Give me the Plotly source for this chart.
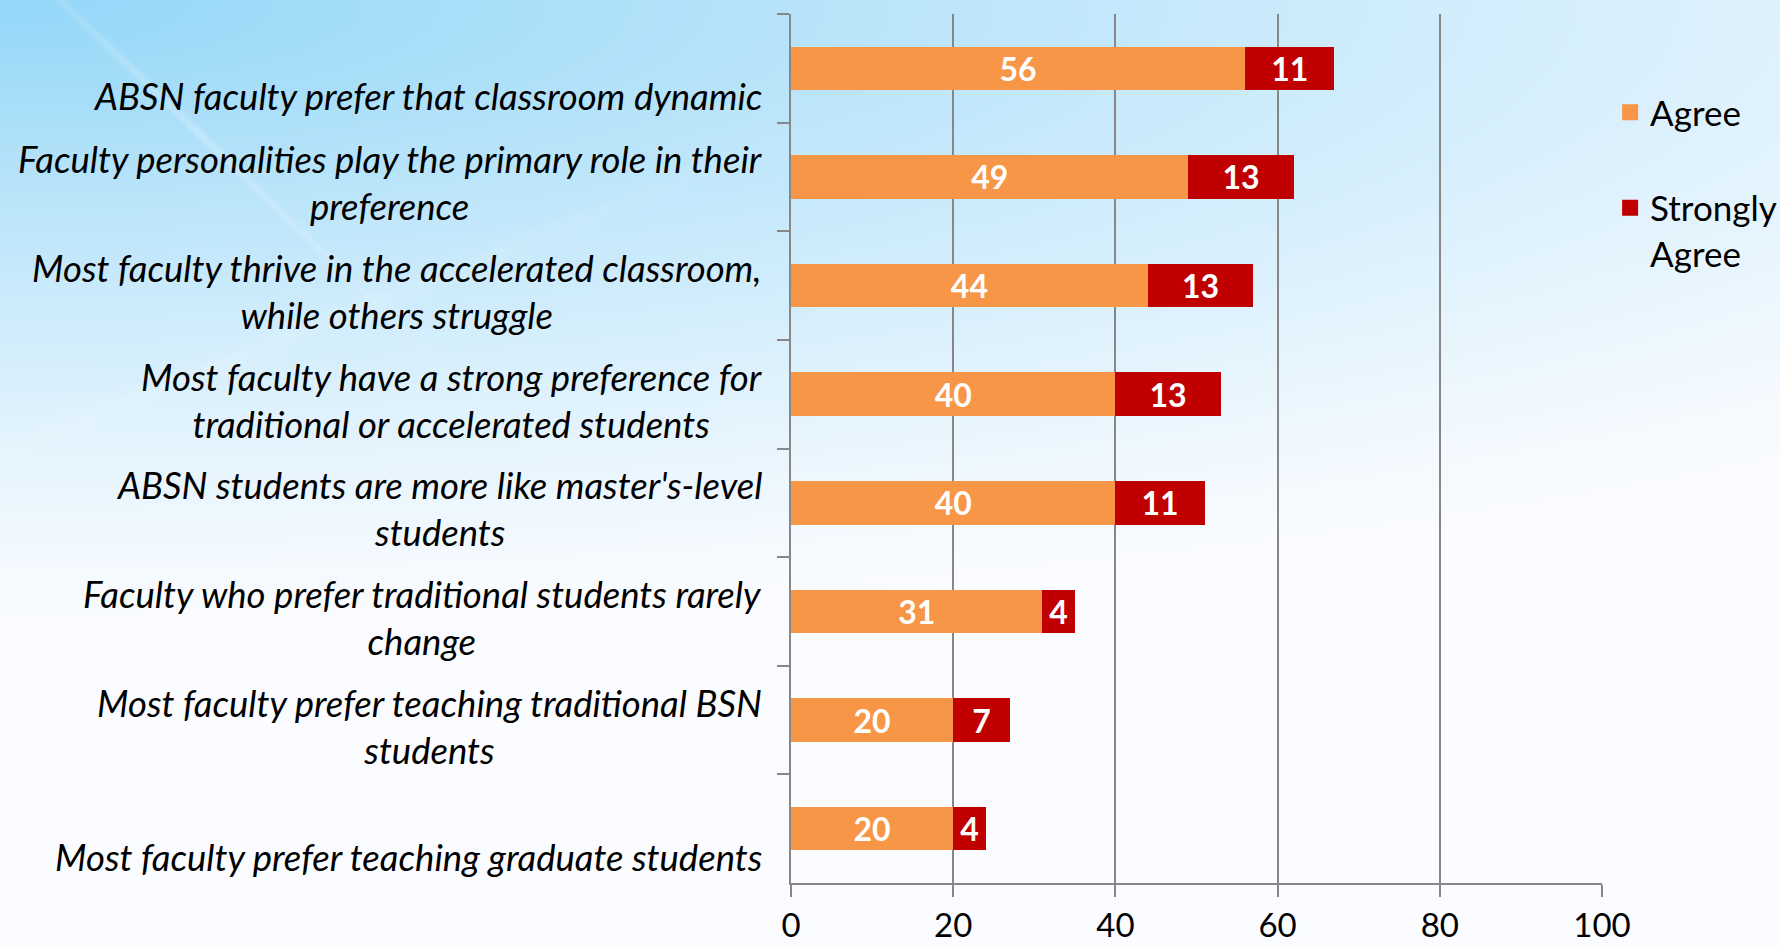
import base64
import struct
import zlib

import numpy as np
import plotly.graph_objects as go

# ---- data -------------------------------------------------------------
statements = [
    "ABSN faculty prefer that classroom dynamic",
    "Faculty personalities play the primary role in their<br>preference",
    "Most faculty thrive in the accelerated classroom,<br>while others struggle",
    "Most faculty have a strong preference for<br>traditional or accelerated students",
    "ABSN students are more like master's-level<br>students",
    "Faculty who prefer traditional students rarely<br>change",
    "Most faculty prefer teaching traditional BSN<br>students",
    "Most faculty prefer teaching graduate students",
]
agree = [56, 49, 44, 40, 40, 31, 20, 20]
strongly_agree = [11, 13, 13, 13, 11, 4, 7, 4]
series_names = ["Agree", "Strongly<br>Agree"]
x_ticks = [0, 20, 40, 60, 80, 100]

# ---- styling ----------------------------------------------------------
W, H = 1780, 947
M_L, M_R, M_T, M_B = 791, 178, 14, 64
ORANGE = "#F79646"
RED = "#C00000"
GRID = "#878787"
FONT = "Lato, 'Open Sans', sans-serif"


def png_data_uri(rgb):
    """Encode an (h, w, 3) uint8 array as a PNG data URI."""
    h, w, _ = rgb.shape
    raw = b"".join(b"\x00" + rgb[r].tobytes() for r in range(h))

    def chunk(tag, data):
        c = struct.pack(">I", len(data)) + tag + data
        return c + struct.pack(">I", zlib.crc32(tag + data) & 0xFFFFFFFF)

    png = b"\x89PNG\r\n\x1a\n"
    png += chunk(b"IHDR", struct.pack(">IIBBBBB", w, h, 8, 2, 0, 0, 0))
    png += chunk(b"IDAT", zlib.compress(raw, 9))
    png += chunk(b"IEND", b"")
    return "data:image/png;base64," + base64.b64encode(png).decode()


# slide-style backdrop: sky blue in the upper left fading to white
S = 2
bh, bw = H // S, W // S
yy, xx = np.mgrid[0:bh, 0:bw].astype(float)
xx *= S
yy *= S
d = np.sqrt((xx / 2700.0) ** 2 + (yy / 620.0) ** 2)
t = np.clip(1.0 - d, 0, 1) ** 1.2
blue = np.array([148, 215, 248], float)
white = np.array([250, 252, 255], float)
img = white + t[..., None] * (blue - white)


def streak(x0, y0, x1, y1, width, strength):
    vx, vy = x1 - x0, y1 - y0
    L = np.hypot(vx, vy)
    nx, ny = -vy / L, vx / L
    dist = np.abs((xx - x0) * nx + (yy - y0) * ny)
    along = ((xx - x0) * vx + (yy - y0) * vy) / (L * L)
    fade = np.clip(1 - np.abs(along - 0.3) / 0.7, 0, 1)
    return strength * np.exp(-(dist / width) ** 2) * fade


a = streak(60, 0, 520, 440, 4, 0.25) + streak(0, 450, 900, 90, 10, 0.15)
a = np.clip(a, 0, 1)[..., None]
img = img + a * (255 - img)
bg_uri = png_data_uri(np.clip(img, 0, 255).astype(np.uint8))

# ---- figure -----------------------------------------------------------
fig = go.Figure()
for name, vals, color in [
    (series_names[0], agree, ORANGE),
    (series_names[1], strongly_agree, RED),
]:
    fig.add_trace(
        go.Bar(
            y=statements,
            x=vals,
            orientation="h",
            name=name,
            marker=dict(color=color, line=dict(width=0)),
            width=0.4,
            text=vals,
            texttemplate="%{x}",
            textposition="inside",
            insidetextanchor="middle",
            constraintext="none",
            textangle=0,
            textfont=dict(family=FONT, size=32, color="white", weight="bold"),
            showlegend=False,
            hoverinfo="skip",
        )
    )
    # square swatches for the legend
    fig.add_trace(
        go.Scatter(
            x=[None],
            y=[None],
            mode="markers",
            name=name,
            legendgroup=name,
            marker=dict(symbol="square", size=20, color=color),
        )
    )

# category labels: right-aligned block, lines centred inside it
for s in statements:
    one_line = "<br>" not in s
    fig.add_annotation(
        x=0,
        xref="paper",
        y=s,
        yref="y",
        text=s,
        xanchor="right",
        yanchor="middle",
        align="center",
        xshift=-27,
        yshift=-28 if one_line else -6,
        showarrow=False,
        font=dict(family=FONT, size=36.5, color="black", style="italic"),
    )

pw = W - M_L - M_R
ph = H - M_T - M_B
fig.add_layout_image(
    source=bg_uri,
    xref="paper",
    yref="paper",
    x=-M_L / pw,
    y=1 + M_T / ph,
    sizex=W / pw,
    sizey=H / ph,
    xanchor="left",
    yanchor="top",
    sizing="stretch",
    layer="below",
)

fig.update_layout(
    width=W,
    height=H,
    margin=dict(l=M_L, r=M_R, t=M_T, b=M_B, pad=0, autoexpand=False),
    paper_bgcolor="white",
    plot_bgcolor="rgba(0,0,0,0)",
    barmode="stack",
    font=dict(family=FONT, color="black"),
    legend=dict(
        x=1.01,
        xanchor="left",
        y=1 - (83 - M_T) / ph,
        yanchor="top",
        font=dict(family=FONT, size=35, color="black"),
        bgcolor="rgba(0,0,0,0)",
        itemsizing="trace",
        tracegroupgap=47,
        valign="top",
    ),
    xaxis=dict(
        range=[0, 100],
        tickvals=x_ticks,
        ticktext=[str(v) for v in x_ticks],
        automargin=False,
        showgrid=True,
        gridcolor=GRID,
        gridwidth=2,
        zeroline=False,
        showline=True,
        linecolor=GRID,
        linewidth=2,
        ticks="outside",
        ticklen=12,
        tickwidth=2,
        tickcolor=GRID,
        tickfont=dict(family=FONT, size=33, color="black"),
        ticklabelstandoff=0,
    ),
    yaxis=dict(
        type="category",
        categoryorder="array",
        categoryarray=statements,
        autorange="reversed",
        automargin=False,
        showticklabels=False,
        showgrid=False,
        zeroline=False,
        showline=True,
        linecolor=GRID,
        linewidth=2,
        ticks="outside",
        tickson="boundaries",
        ticklen=12,
        tickwidth=2,
        tickcolor=GRID,
    ),
)

fig.write_html("out.html")
